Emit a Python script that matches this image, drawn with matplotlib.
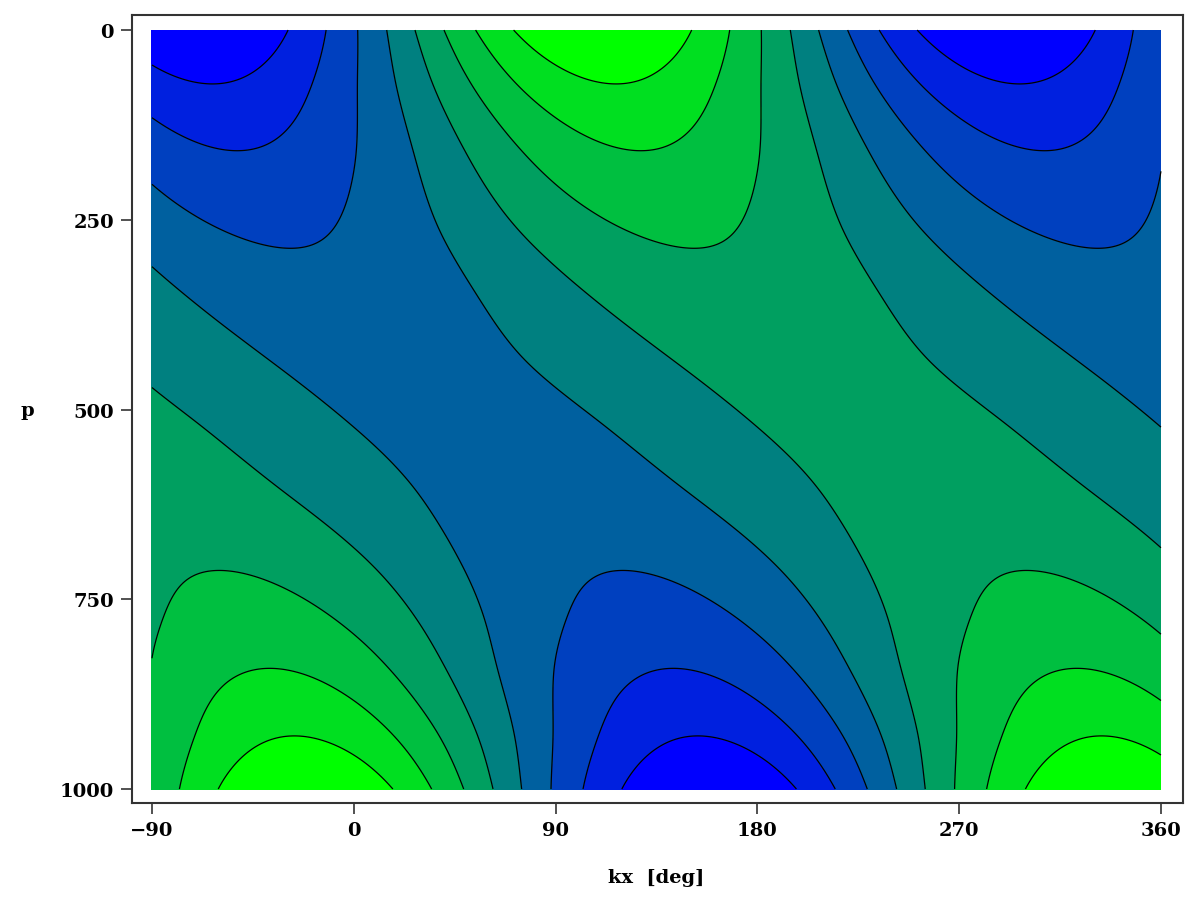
import numpy as np
import matplotlib
matplotlib.use("Agg")
import matplotlib.pyplot as plt
from matplotlib.colors import ListedColormap, BoundaryNorm

# ---- values (wave amplitude / phase of max per pressure level)
p_levels = [0, 71, 159, 262, 348, 434, 520, 605, 712, 777, 841, 930, 1000]
amplitude = [4.55, 3.5, 2.5, 1.66, 1.19, 0.92, 0.9, 1.0, 1.5, 1.92, 2.5, 3.5, 4.5]
phase_deg = [111, 117, 128, 145.5, 169.5, 199, 235, 267.3, 300, 313.3, 322.5, 333.5, 338.5]

contour_levels = [-3.5, -2.5, -1.5, -0.5, 0.5, 1.5, 2.5, 3.5]
band_colors = ["#0000ff", "#0020df", "#0040bf", "#00609f", "#008080",
               "#009f60", "#00bf40", "#00df20", "#00ff00"]
x_ticks = [-90, 0, 90, 180, 270, 360]
y_ticks = [0, 250, 500, 750, 1000]


def natural_spline(xk, yk, xq):
    xk = np.asarray(xk, float); yk = np.asarray(yk, float)
    n = len(xk); h = np.diff(xk)
    M = np.zeros((n, n)); r = np.zeros(n)
    M[0, 0] = M[-1, -1] = 1.0
    for i in range(1, n - 1):
        M[i, i - 1] = h[i - 1]; M[i, i] = 2 * (h[i - 1] + h[i]); M[i, i + 1] = h[i]
        r[i] = 6 * ((yk[i + 1] - yk[i]) / h[i] - (yk[i] - yk[i - 1]) / h[i - 1])
    s = np.linalg.solve(M, r)
    idx = np.clip(np.searchsorted(xk, xq) - 1, 0, n - 2)
    x0 = xk[idx]; x1 = xk[idx + 1]; hh = h[idx]
    return (s[idx] * (x1 - xq) ** 3 / (6 * hh) + s[idx + 1] * (xq - x0) ** 3 / (6 * hh)
            + (yk[idx] / hh - s[idx] * hh / 6) * (x1 - xq)
            + (yk[idx + 1] / hh - s[idx + 1] * hh / 6) * (xq - x0))


xg = np.linspace(-90, 360, 901)
pg = np.linspace(0, 1000, 801)
A = natural_spline(p_levels, amplitude, pg)
PH = natural_spline(p_levels, phase_deg, pg)
Z = A[:, None] * np.cos(np.deg2rad(xg[None, :] - PH[:, None]))

fig = plt.figure(figsize=(12, 9.04), dpi=100)
ax = fig.add_axes([132 / 1200, 1 - 804 / 904, (1182.7 - 132) / 1200, (804 - 16) / 904])

bounds = [-100] + contour_levels + [100]
cmap = ListedColormap(band_colors)
norm = BoundaryNorm(bounds, cmap.N)
ax.contourf(xg, pg, Z, levels=bounds, cmap=cmap, norm=norm)
ax.contour(xg, pg, Z, levels=contour_levels, colors="black", linewidths=0.9,
           linestyles="solid")

ax.set_xlim(-98.9, 369.7)
ax.set_ylim(1018.4, -19.8)
ax.set_xticks(x_ticks)
ax.set_yticks(y_ticks)
font = dict(family="DejaVu Serif", weight="bold", size=14)
ax.set_xticklabels([("\u221290" if v < 0 else str(v)) for v in x_ticks], fontdict=font)
ax.set_yticklabels([str(v) for v in y_ticks], fontdict=font)
ax.tick_params(axis="both", direction="out", length=8, width=1.2, colors="#333333",
               labelcolor="black", pad=5)
for s in ax.spines.values():
    s.set_linewidth(1.5)
    s.set_color("#333333")

fig.text(656 / 1200, 1 - 878 / 904, "kx  [deg]", ha="center", va="center", **font)
fig.text(27 / 1200, 1 - 411 / 904, "p", ha="center", va="center", **font)

fig.savefig("out.png", dpi=100)
